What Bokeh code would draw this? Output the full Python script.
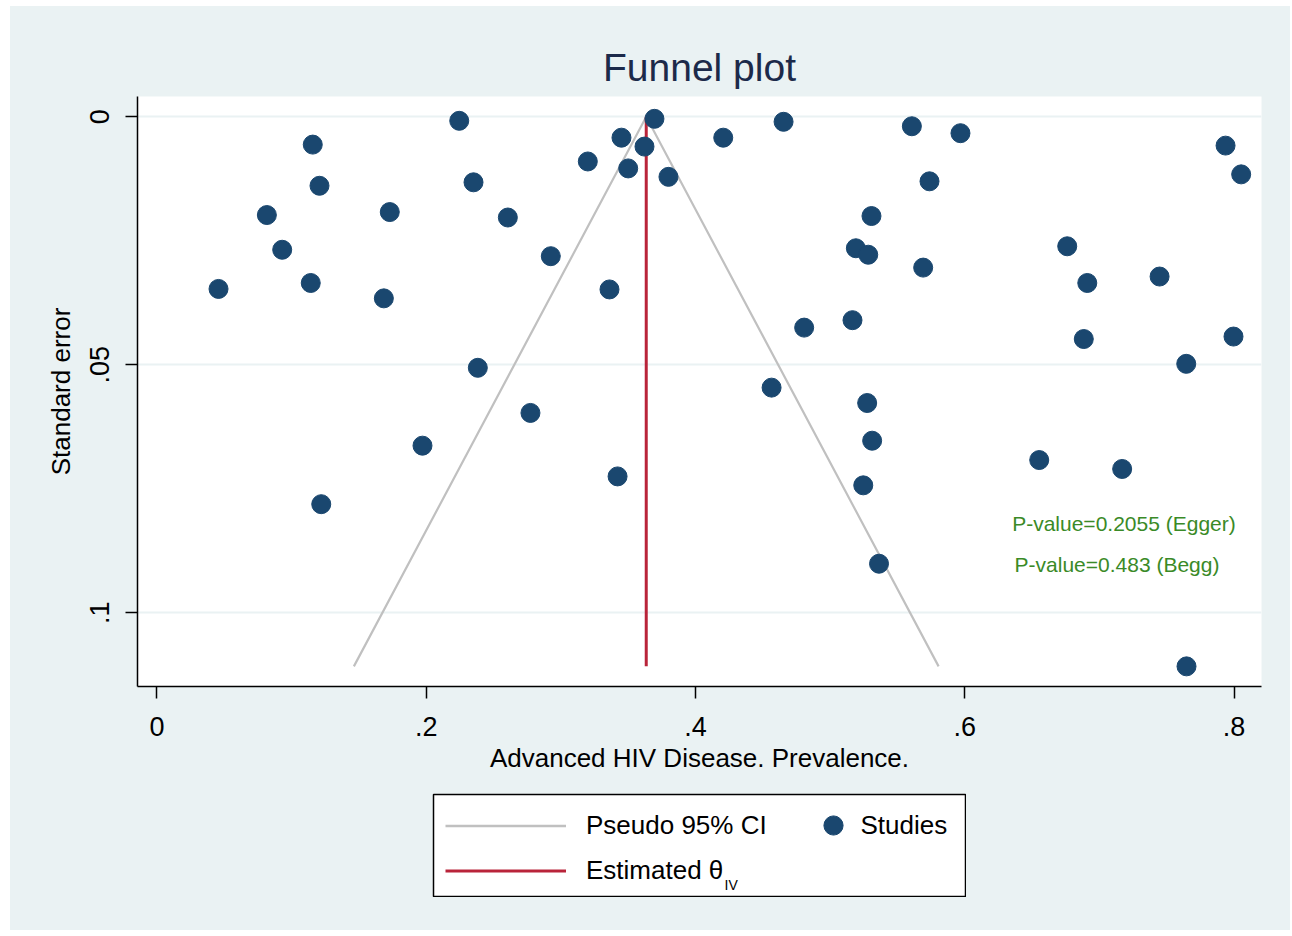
from bokeh.plotting import figure
from bokeh.models import Range1d, FixedTicker, Legend, LegendItem, Label, Column
from bokeh.embed import file_html
from bokeh.resources import INLINE

# ---- data ----
prevalence = [0.0457, 0.0816, 0.0930, 0.1157, 0.1207, 0.1142, 0.1220, 0.1729, 0.1685,
              0.1972, 0.2245, 0.2351, 0.2383, 0.2606, 0.2774, 0.2925, 0.3200, 0.3361,
              0.3421, 0.3450, 0.3500, 0.3621, 0.3695, 0.3799, 0.4206, 0.4654, 0.4565,
              0.4807, 0.5166, 0.5191, 0.5283, 0.5307, 0.5275, 0.5312, 0.5246, 0.5363,
              0.5607, 0.5738, 0.5691, 0.5968, 0.6761, 0.6910, 0.6884, 0.6553, 0.7169,
              0.7447, 0.7645, 0.7937, 0.8053, 0.7996, 0.7647]
std_error = [0.0347, 0.0198, 0.0268, 0.0056, 0.0139, 0.0335, 0.0781, 0.0192, 0.0366,
             0.0663, 0.0008, 0.0132, 0.0506, 0.0203, 0.0597, 0.0281, 0.0090, 0.0348,
             0.0725, 0.0042, 0.0104, 0.0060, 0.0004, 0.0121, 0.0042, 0.0010, 0.0546,
             0.0425, 0.0410, 0.0265, 0.0278, 0.0200, 0.0577, 0.0653, 0.0743, 0.0901,
             0.0019, 0.0130, 0.0304, 0.0033, 0.0261, 0.0335, 0.0448, 0.0692, 0.0710,
             0.0322, 0.0498, 0.0058, 0.0116, 0.0443, 0.1108]
theta_iv = 0.3634
x_ticks = [0.0, 0.2, 0.4, 0.6, 0.8]
x_tick_labels = ["0", ".2", ".4", ".6", ".8"]
y_ticks = [0.0, 0.05, 0.1]
y_tick_labels = ["0", ".05", ".1"]
p_egger = "P-value=0.2055 (Egger)"
p_begg = "P-value=0.483 (Begg)"
legend_labels = ["Pseudo 95% CI", "Estimated θ", "Studies"]

# ---- styles ----
FONT = "Liberation Sans"
BG = "#eaf2f3"
NAVY = "#1a476f"
RED = "#b9243a"
GREY = "#c0c0c0"
GREEN = "#3a8a27"
TITLE_C = "#1c2a4a"

p = figure(width=1280, height=779, output_backend="svg", toolbar_location=None,
           x_range=Range1d(-0.01448, 0.8204), y_range=Range1d(0.11486, -0.0041),
           min_border_left=127, min_border_right=29, min_border_top=90,
           min_border_bottom=99, background_fill_color="white",
           border_fill_color=BG, outline_line_color=None)
p.frame_align = False

p.title.text = "Funnel plot"
p.title.align = "center"
p.title.text_font = FONT
p.title.text_font_size = "39px"
p.title.text_font_style = "normal"
p.title.text_color = TITLE_C
p.title.standoff = 16

p.xgrid.visible = False
p.ygrid.grid_line_color = BG
p.ygrid.grid_line_width = 2

xa = p.xaxis[0]
xa.ticker = FixedTicker(ticks=x_ticks)
xa.major_label_overrides = dict(zip(x_ticks, x_tick_labels))
xa.axis_label = "Advanced HIV Disease. Prevalence."
ya = p.yaxis[0]
ya.ticker = FixedTicker(ticks=y_ticks)
ya.major_label_overrides = dict(zip(y_ticks, y_tick_labels))
ya.axis_label = "Standard error"
ya.major_label_orientation = "vertical"
p.ygrid.ticker = ya.ticker

for ax in (xa, ya):
    ax.minor_tick_line_color = None
    ax.major_tick_in = 0
    ax.major_tick_out = 12
    ax.major_tick_line_color = "black"
    ax.major_tick_line_width = 1.5
    ax.axis_line_color = "black"
    ax.axis_line_width = 1.5
    ax.major_label_text_font = FONT
    ax.major_label_text_font_size = "27px"
    ax.major_label_text_color = "black"
    ax.axis_label_text_font = FONT
    ax.axis_label_text_font_size = "26px"
    ax.axis_label_text_font_style = "normal"
    ax.axis_label_text_color = "black"
xa.major_label_standoff = 18
xa.axis_label_standoff = 4
ya.major_label_standoff = 16
ya.axis_label_standoff = 12

se_max = max(std_error)
funnel_x = [theta_iv - 1.96 * se_max, theta_iv, theta_iv + 1.96 * se_max]
funnel_y = [se_max, 0.0, se_max]
p.line(funnel_x, funnel_y, line_color=GREY, line_width=2.2)
p.line([theta_iv, theta_iv], [0.0, se_max], line_color=RED, line_width=3)
p.scatter(prevalence, std_error, size=19, fill_color=NAVY, line_color=NAVY)

p.add_layout(Label(x=0.6352, y=0.0819, text=p_egger, text_color=GREEN, text_font=FONT,
                   text_font_size="21px", text_baseline="middle", text_align="left"))
p.add_layout(Label(x=0.6370, y=0.0902, text=p_begg, text_color=GREEN, text_font=FONT,
                   text_font_size="21px", text_baseline="middle", text_align="left"))

# ---- legend panel (separate small figure beneath the plot) ----
p_leg = figure(width=534, height=104, output_backend="svg", toolbar_location=None,
               x_range=Range1d(0, 1), y_range=Range1d(0, 1),
               x_axis_location=None, y_axis_location=None, min_border=1,
               border_fill_color="white", background_fill_color="white",
               outline_line_color="black", outline_line_width=1.5,
               margin=(8, 0, 33, 422))
p_leg.frame_align = False
p_leg.grid.visible = False
# key renderers: their points lie outside the (0, 1) ranges, only the legend keys show
k_ci = p_leg.line([5, 6], [5, 5], line_color=GREY, line_width=2.4)
k_est = p_leg.line([5, 6], [5, 5], line_color=RED, line_width=3)
k_st = p_leg.scatter([5], [5], size=19, fill_color=NAVY, line_color=NAVY)

common = dict(padding=0, margin=0, border_line_color=None, background_fill_alpha=0,
              label_text_font=FONT, label_text_font_size="26px", label_text_color="black",
              spacing=10)
leg_a = Legend(items=[LegendItem(label=legend_labels[0], renderers=[k_ci]),
                      LegendItem(label=legend_labels[1], renderers=[k_est])],
               location=(12, 8.5), orientation="vertical", glyph_width=121,
               glyph_height=35, label_standoff=20, **common)
leg_b = Legend(items=[LegendItem(label=legend_labels[2], renderers=[k_st])],
               location=(375.5, 47), orientation="vertical", glyph_width=48,
               glyph_height=48, label_standoff=4, **common)
p_leg.add_layout(leg_a)
p_leg.add_layout(leg_b)
p_leg.add_layout(Label(x=291, y=12, x_units="screen", y_units="screen", text="IV",
                       text_font=FONT, text_font_size="14px", text_baseline="middle",
                       text_color="black"))

page = Column(children=[p, p_leg], styles={"background-color": BG}, margin=(6, 0, 0, 10))

open("out.html", "w").write(file_html(page, INLINE))
